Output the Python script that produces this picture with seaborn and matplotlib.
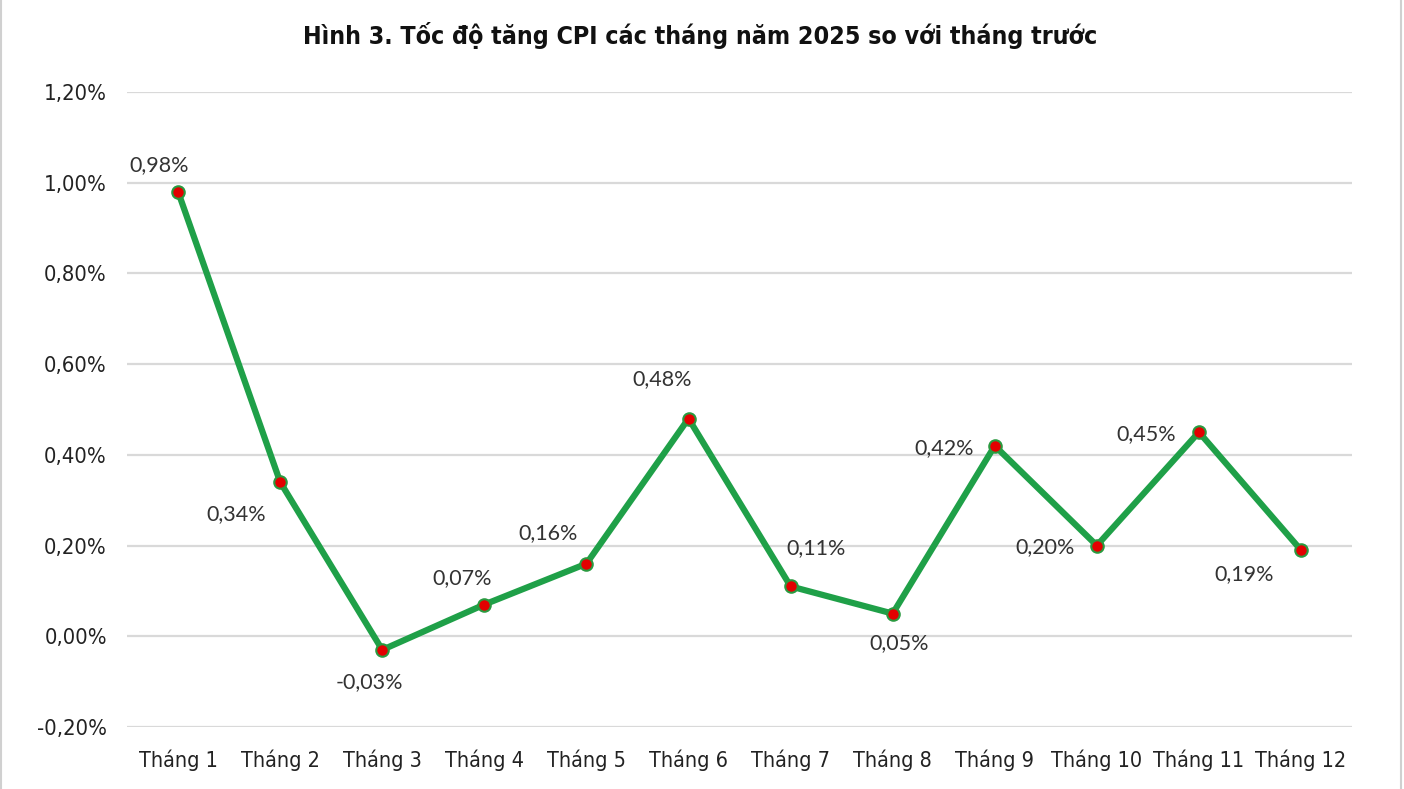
import matplotlib
matplotlib.use("Agg")
import matplotlib.pyplot as plt
import matplotlib.patches as mpatches
import seaborn as sns
import pandas as pd

# so lieu CPI thang so voi thang truoc (%)
months = ["Tháng 1", "Tháng 2", "Tháng 3", "Tháng 4", "Tháng 5", "Tháng 6",
          "Tháng 7", "Tháng 8", "Tháng 9", "Tháng 10", "Tháng 11", "Tháng 12"]
cpi = [0.98, 0.34, -0.03, 0.07, 0.16, 0.48, 0.11, 0.05, 0.42, 0.20, 0.45, 0.19]
y_ticks = [-0.20, 0.0, 0.20, 0.40, 0.60, 0.80, 1.00, 1.20]

# vi tri nhan so lieu (offset pixel so voi diem)
label_dx = [-19, -44, -13, -22, -38, -26, 25, 6, -51, -52, -53, -57]
label_dy = [27, -32, -32, 26, 31, 39, 38, -29, -2, -2, -2, -24]

df = pd.DataFrame({"thang": months, "cpi": cpi})

sns.set_theme(style="white")
plt.rcParams["font.family"] = ["DejaVu Sans"]
plt.rcParams["font.stretch"] = "condensed"

fig = plt.figure(figsize=(14.04, 7.89), dpi=100)
ax = fig.add_axes([0.0905, 0.0786, 0.8725, 0.8048])

green = "#1fa048"
sns.lineplot(data=df, x="thang", y="cpi", ax=ax, sort=False, color=green,
             linewidth=4.5, marker="o", markersize=9,
             markerfacecolor="#e30000", markeredgecolor="#2a9a40", markeredgewidth=1.5,
             zorder=3)

ax.set_xlim(-0.5, len(months) - 0.5)
ax.set_ylim(-0.20, 1.20)
ax.set_yticks(y_ticks)
ax.set_yticklabels([f"{v:.2f}%".replace(".", ",") for v in y_ticks])
ax.tick_params(axis="y", labelsize=15.8, length=0, pad=14.5, colors="#222222")
ax.tick_params(axis="x", labelsize=15.5, length=0, pad=16, colors="#222222")
ax.set_xlabel("")
ax.set_ylabel("")
ax.grid(axis="y", color="#d9d9d9", linewidth=1.6)
ax.grid(axis="x", visible=False)
for s in ax.spines.values():
    s.set_visible(False)

for i, v in enumerate(cpi):
    ax.annotate(f"{v:.2f}%".replace(".", ","), (i, v),
                xytext=(label_dx[i] * 0.72, label_dy[i] * 0.72), textcoords="offset points",
                ha="center", va="center", fontsize=15.5, color="#333333",
                family=["Lato", "DejaVu Sans"], fontstretch="normal")

fig.text(0.4985, 0.955, "Hình 3. Tốc độ tăng CPI các tháng năm 2025 so với tháng trước",
         ha="center", va="center", fontsize=17.9, fontweight="bold", color="#111111")

# khung vien bieu do
fig.patches.append(mpatches.Rectangle((0.001, -0.01), 0.997, 1.02, transform=fig.transFigure,
                                      fill=False, edgecolor="#d0d0d0", linewidth=1.5))

fig.savefig("out.png", dpi=100)
